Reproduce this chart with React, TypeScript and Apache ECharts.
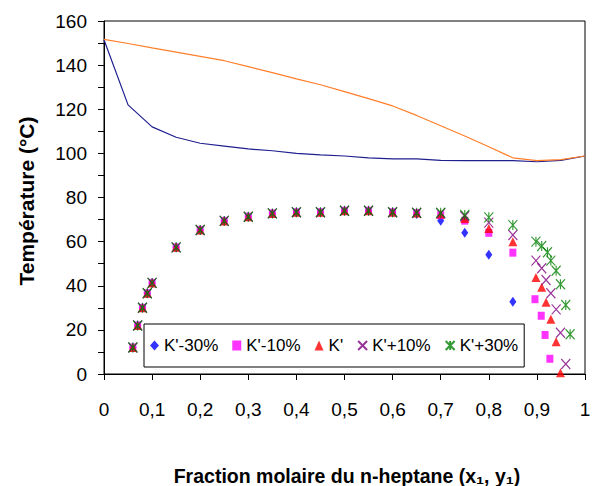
import React, { useEffect, useRef } from "react";
import * as echarts from "echarts";

// Courbes de bulle / rosée (x = fraction molaire)
const curveX = [0, 0.05, 0.1, 0.15, 0.2, 0.25, 0.3, 0.35, 0.4, 0.45, 0.5, 0.55, 0.6, 0.65, 0.7, 0.75, 0.8, 0.85, 0.9, 0.95, 1.0];
const bubbleT = [151.5, 122, 112, 107.3, 104.6, 103.3, 102, 101.2, 100, 99.3, 98.8, 98, 97.5, 97.5, 96.8, 96.7, 96.7, 96.7, 96.2, 96.8, 98.8];
const dewT = [151.7, 149.8, 147.8, 145.9, 144, 142, 139.3, 136.6, 133.8, 131.1, 128, 124.8, 121.5, 117.2, 112.5, 107.9, 103, 98, 96.7, 97.2, 98.8];

// Points calculés
const scatterX = [0.06, 0.07, 0.08, 0.09, 0.1, 0.15, 0.2, 0.25, 0.3, 0.35, 0.4, 0.45, 0.5, 0.55, 0.6, 0.65, 0.7, 0.75, 0.8, 0.85];

const km30X = [...scatterX];
const km30T = [12, 22, 30, 36.6, 41.3, 57.4, 65.3, 69.4, 71.3, 72.8, 73.3, 73.3, 74, 74, 73.3, 72.5, 69.5, 64, 54, 32.8];

const km10X = [...scatterX, 0.896, 0.909, 0.917, 0.927];
const km10T = [12, 22, 30, 36.6, 41.3, 57.4, 65.3, 69.4, 71.3, 72.8, 73.3, 73.3, 74, 74, 73.3, 73, 72, 69.5, 64, 55, 33.9, 26.4, 17.7, 6.9];

const kX = [...scatterX, 0.898, 0.91, 0.919, 0.929, 0.94, 0.949];
const kT = [12, 22, 30, 36.6, 41.3, 57.4, 65.3, 69.4, 71.3, 72.8, 73.3, 73.3, 74, 74, 73.3, 73, 72.5, 70.5, 66, 60, 43.7, 39.3, 32.5, 24.8, 14.6, 0.6];

const kp10X = [...scatterX, 0.898, 0.91, 0.919, 0.929, 0.94, 0.949, 0.96];
const kp10T = [12, 22, 30, 36.6, 41.3, 57.4, 65.3, 69.4, 71.3, 72.8, 73.3, 73.3, 74, 74, 73.3, 73, 72.8, 71.5, 68.6, 63, 51.4, 47.9, 42.6, 36.6, 29.3, 18.7, 4.5];

const kp30X = [...scatterX, 0.898, 0.91, 0.922, 0.929, 0.94, 0.949, 0.96, 0.969];
const kp30T = [12, 22, 30, 36.6, 41.3, 57.4, 65.3, 69.4, 71.3, 72.8, 73.3, 73.3, 74, 74, 73.3, 73.1, 73.1, 72.1, 71, 67.5, 60, 58, 55.2, 51.4, 46.8, 40.7, 31.3, 18];

const seriesNames = ["K'-30%", "K'-10%", "K'", "K'+10%", "K'+30%"];

const zip = (xs: number[], ys: number[]) => xs.map((x, i) => [x, ys[i]]);

const FONT = "'Liberation Sans', Arial, sans-serif";

export default function App() {
  const ref = useRef<HTMLDivElement>(null);
  useEffect(() => {
    if (!ref.current) return;
    const chart = echarts.init(ref.current, undefined, { renderer: "svg" });
    const crossPath = "path://M0,0L10,10M10,0L0,10";
    const starPath = "path://M0,0L10,10M10,0L0,10M5,0L5,10";
    chart.setOption({
      animation: false,
      backgroundColor: "#fff",
      grid: { left: 104, right: 10, top: 21, bottom: 112, show: true, borderColor: "#000", borderWidth: 1 },
      xAxis: {
        type: "value",
        min: 0,
        max: 1,
        interval: 0.1,
        splitLine: { show: false },
        axisLine: { show: true, onZero: false, lineStyle: { color: "#000", width: 1 } },
        axisTick: { show: true, inside: false, length: 6, lineStyle: { color: "#000" } },
        axisLabel: {
          margin: 26,
          fontFamily: FONT,
          fontSize: 19,
          color: "#000",
          formatter: (v: number) => String(Math.round(v * 10) / 10).replace(".", ","),
        },
      },
      yAxis: {
        type: "value",
        min: 0,
        max: 160,
        interval: 20,
        splitLine: { show: false },
        axisLine: { show: true, onZero: false, lineStyle: { color: "#000", width: 1 } },
        axisTick: { show: true, inside: false, length: 6, lineStyle: { color: "#000" } },
        minorTick: { show: true, splitNumber: 2, length: 6, lineStyle: { color: "#000" } },
        axisLabel: { margin: 17, fontFamily: FONT, fontSize: 19, color: "#000" },
      },
      legend: {
        data: seriesNames,
        left: 144,
        top: 324,
        orient: "horizontal",
        borderColor: "#000",
        borderWidth: 1,
        backgroundColor: "#fff",
        padding: [13, 6, 13, 6],
        itemGap: 14,
        itemWidth: 9,
        itemHeight: 10,
        textStyle: { fontFamily: FONT, fontSize: 17, color: "#000" },
      },
      graphic: [
        {
          type: "text",
          x: 26,
          y: 201,
          rotation: Math.PI / 2,
          style: {
            text: "Température (°C)",
            font: "bold 21px 'Liberation Sans', Arial, sans-serif",
            fill: "#000",
            textAlign: "center",
            textVerticalAlign: "middle",
          },
        },
        {
          type: "text",
          x: 347,
          y: 476,
          style: {
            text: "Fraction molaire du n-heptane (x₁, y₁)",
            font: "bold 19.5px " + FONT,
            fill: "#000",
            textAlign: "center",
            textVerticalAlign: "middle",
          },
        },
      ],
      series: [
        {
          name: "Bulle",
          type: "line",
          data: zip(curveX, bubbleT),
          showSymbol: false,
          symbol: "none",
          lineStyle: { color: "#1f1f8f", width: 1.2 },
          z: 1,
        },
        {
          name: "Rosée",
          type: "line",
          data: zip(curveX, dewT),
          showSymbol: false,
          symbol: "none",
          lineStyle: { color: "#ff7f2a", width: 1.2 },
          z: 1,
        },
        {
          name: seriesNames[0],
          type: "scatter",
          data: zip(km30X, km30T),
          symbol: "diamond",
          symbolSize: [7, 10],
          itemStyle: { color: "#0000ff" },
        },
        {
          name: seriesNames[1],
          type: "scatter",
          data: zip(km10X, km10T),
          symbol: "rect",
          symbolSize: [7, 8],
          itemStyle: { color: "#ff00ff" },
        },
        {
          name: seriesNames[2],
          type: "scatter",
          data: zip(kX, kT),
          symbol: "triangle",
          symbolSize: [9, 9],
          itemStyle: { color: "#ff0000" },
        },
        {
          name: seriesNames[3],
          type: "scatter",
          data: zip(kp10X, kp10T),
          symbol: crossPath,
          symbolSize: [9, 10],
          itemStyle: { color: "transparent", borderColor: "#800080", borderWidth: 1.2 },
        },
        {
          name: seriesNames[4],
          type: "scatter",
          data: zip(kp30X, kp30T),
          symbol: starPath,
          symbolSize: [9, 10],
          itemStyle: { color: "transparent", borderColor: "#008000", borderWidth: 1.2 },
        },
      ],
    });
    return () => chart.dispose();
  }, []);
  return <div ref={ref} style={{ position: "fixed", left: 0, top: 0, width: 595, height: 486 }} />;
}
